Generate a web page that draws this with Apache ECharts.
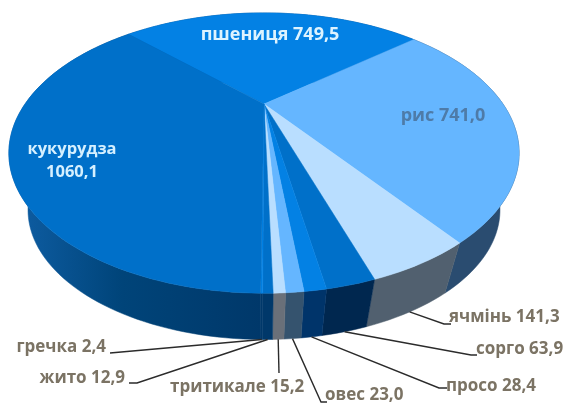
<!DOCTYPE html>
<html>
<head>
<meta charset="utf-8">
<style>html,body{margin:0;padding:0;background:#fff}#chart{width:568px;height:403px}</style>
<script src="https://cdn.jsdelivr.net/npm/echarts@6/dist/echarts.min.js"></script>
</head>
<body>
<div id="chart"></div>
<script>
// Slices run clockwise, starting at the back-left edge of the disc.
const crops = ['пшениця', 'рис', 'ячмінь', 'сорго', 'просо', 'овес', 'тритикале', 'жито', 'гречка', 'кукурудза'];
const harvest = [749.5, 741.0, 141.3, 63.9, 28.4, 23.0, 15.2, 12.9, 2.4, 1060.1];

const topColors = ['#0381E4', '#65B6FF', '#B9DEFF', '#0070C9', '#0381E4', '#65B6FF', '#B9DEFF', '#0070C9', '#0381E4', '#0070C9'];
const sideColors = ['#004A8A', '#2A4C70', '#51606F', '#00274F', '#00346A', '#35536E', '#6A7079', '#00386A', '#00386A', '#0A5AA2'];

// Perspective disc: centre of the top face, half axes, and foreshortening strength.
const disc = { x: 264, y: 104, a: 239, b: 123, k: 0.35, startDeg: -45 };
const base = { y: 164.5, scale: 0.925 };

function project(deg, rim) {
  const t = deg * Math.PI / 180;
  const X = Math.sin(t), Z = Math.cos(t), w = 1 + disc.k * Z;
  const s = rim === 'base' ? base.scale : 1;
  const y0 = rim === 'base' ? base.y : disc.y;
  return [disc.x + s * disc.a * X / w, y0 - s * disc.b * Z / w];
}

function arc(from, to, rim) {
  const pts = [];
  const n = Math.max(2, Math.ceil(Math.abs(to - from) / 1.5));
  for (let i = 0; i <= n; i++) pts.push(project(from + (to - from) * i / n, rim));
  return pts;
}

const total = harvest.reduce((a, b) => a + b, 0);
let running = disc.startDeg;
const spans = harvest.map((v, i) => {
  const from = running;
  running += v / total * 360;
  return [from, running, i];
});

// Back walls first so that nearer walls paint over them.
const wallOrder = spans.slice().sort((p, q) =>
  Math.cos((q[0] + q[1]) * Math.PI / 360) - Math.cos((p[0] + p[1]) * Math.PI / 360));

const fmt = v => v.toFixed(1).replace('.', ',');

// Label placement: text anchor, size and the bend of the leader line.
const insideLabels = {
  0: { x: 270, y: 35, size: 18, color: '#DDF3FF', one: true },
  1: { x: 443, y: 116, size: 18, color: '#4E7BA8', one: true },
  9: { x: 72, y: 161, size: 16.5, color: '#D5F0FF', one: false }
};
const outerLabels = {
  2: { x: 449, y: 317, align: 'left', bend: [444, 324], stub: [451, 324] },
  3: { x: 476, y: 349, align: 'left', bend: [471, 355], stub: [477, 355] },
  4: { x: 446, y: 386, align: 'left', bend: [439, 388], stub: [447, 388] },
  5: { x: 325, y: 395, align: 'left', bend: [321, 402], stub: [327, 402] },
  6: { x: 170, y: 387, align: 'left', bend: [279, 373], stub: [279, 373] },
  7: { x: 125, y: 378, align: 'right', bend: [137, 383], stub: [129, 383] },
  8: { x: 106, y: 347, align: 'right', bend: [110, 353], stub: [110, 353] }
};
const labelFont = size => 'bold ' + size + 'px "Open Sans", sans-serif';

const chart = echarts.init(document.getElementById('chart'), null, { renderer: 'canvas' });
chart.setOption({
  animation: false,
  backgroundColor: '#ffffff',
  series: [
    {
      type: 'custom', coordinateSystem: 'none', silent: true, z: 1,
      data: wallOrder,
      renderItem(params, api) {
        const from = api.value(0), to = api.value(1), i = api.value(2);
        const pts = arc(from, to, 'top').concat(arc(from, to, 'base').reverse());
        let fill = sideColors[i];
        if (crops[i] === 'кукурудза') {
          fill = new echarts.graphic.LinearGradient(0, 0, 1, 0, [
            { offset: 0, color: '#0F5FA6' }, { offset: 0.45, color: '#004479' }, { offset: 1, color: '#00386A' }
          ]);
        }
        return { type: 'polygon', shape: { points: pts }, style: { fill, stroke: fill, lineWidth: 0.5 } };
      }
    },
    {
      type: 'custom', coordinateSystem: 'none', silent: true, z: 2,
      data: spans,
      renderItem(params, api) {
        const from = api.value(0), to = api.value(1), i = api.value(2);
        const pts = [[disc.x, disc.y]].concat(arc(from, to, 'top'));
        return { type: 'polygon', shape: { points: pts }, style: { fill: topColors[i], stroke: topColors[i], lineWidth: 0.5 } };
      }
    },
    {
      type: 'custom', coordinateSystem: 'none', silent: true, z: 3,
      data: spans,
      renderItem(params, api) {
        const from = api.value(0), to = api.value(1), i = api.value(2);
        const inner = insideLabels[i], outer = outerLabels[i];
        const children = [];
        if (inner) {
          const text = inner.one ? crops[i] + ' ' + fmt(harvest[i]) : crops[i] + '\n' + fmt(harvest[i]);
          children.push({
            type: 'text',
            style: { x: inner.x, y: inner.y, text, font: labelFont(inner.size), lineHeight: 23, fill: inner.color, align: 'center', verticalAlign: 'middle' }
          });
        } else if (outer) {
          const start = project((from + to) / 2, 'base');
          children.push({
            type: 'polyline',
            shape: { points: [start, outer.bend, outer.stub] },
            style: { fill: 'none', stroke: '#2B2B2B', lineWidth: 1.4 }
          });
          children.push({
            type: 'text',
            style: { x: outer.x, y: outer.y, text: crops[i] + ' ' + fmt(harvest[i]), font: labelFont(17), fill: '#7B7364', align: outer.align, verticalAlign: 'middle' }
          });
        }
        return { type: 'group', children };
      }
    }
  ]
});
</script>
</body>
</html>
